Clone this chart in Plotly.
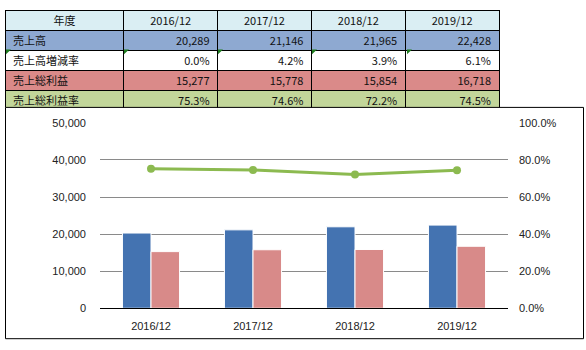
import plotly.graph_objects as go

W, H = 586, 350

years = ["2016/12", "2017/12", "2018/12", "2019/12"]
sales = [20289, 21146, 21965, 22428]
sales_growth = [0.0, 4.2, 3.9, 6.1]
gross_profit = [15277, 15778, 15854, 16718]
gross_margin = [75.3, 74.6, 72.2, 74.5]
row_labels = ["売上高", "売上高増減率", "売上総利益", "売上総利益率"]
header_label = "年度"

BLUE = "#4473B1"
PINK = "#D88A89"
GREEN = "#8CBA50"
F = "Noto Sans CJK JP"


def px(x):
    return x / W


def py(y):
    return 1 - y / H


# table
row_fills = ["#8EA9D1", "#FFFFFF", "#DA8A89", "#C2D69A"]
cols = [row_labels]
for i in range(len(years)):
    cols.append([f"{sales[i]:,}", f"{sales_growth[i]:.1f}%",
                 f"{gross_profit[i]:,}", f"{gross_margin[i]:.1f}%"])
fills = [row_fills for _ in cols]
header_vals = [header_label] + years
col_w = [119, 94, 94, 94, 94]
TRANSP = "rgba(0,0,0,0)"

fig = go.Figure()
# cell backgrounds and borders
fig.add_trace(go.Table(
    domain=dict(x=[px(5), px(499.5)], y=[py(105.5), py(4.5)]),
    columnwidth=col_w,
    header=dict(values=["" for _ in header_vals], fill_color="#DAEEF3",
                line=dict(color="black", width=1), height=20),
    cells=dict(values=[["" for _ in c] for c in cols], fill_color=fills,
               line=dict(color="black", width=1), height=20),
))
# cell texts (nudged up slightly to centre them vertically)
fig.add_trace(go.Table(
    domain=dict(x=[px(5), px(499.5)], y=[py(103.5), py(2.5)]),
    columnwidth=col_w,
    header=dict(values=header_vals, fill_color=TRANSP,
                line=dict(color=TRANSP, width=0), align="center",
                font=dict(family=F, size=11, color="#111"), height=20),
    cells=dict(values=cols, fill_color=TRANSP,
               line=dict(color=TRANSP, width=0),
               align=["left", "right", "right", "right", "right"],
               font=dict(family=F, size=11, color="#111"), height=20),
))

fig.add_trace(go.Bar(x=years, y=sales, name="売上高", marker=dict(color=BLUE, line=dict(color="white", width=1)),
                     yaxis="y", xaxis="x"))
fig.add_trace(go.Bar(x=years, y=gross_profit, name="売上総利益", marker=dict(color=PINK, line=dict(color="white", width=1)),
                     yaxis="y", xaxis="x"))
fig.add_trace(go.Scatter(x=years, y=[v / 100 for v in gross_margin], name="売上総利益率",
                         mode="lines+markers", line=dict(color=GREEN, width=3),
                         marker=dict(color=GREEN, size=8), yaxis="y2", xaxis="x"))

tickfont = dict(family="Liberation Sans", size=11, color="#222")
fig.update_layout(
    width=W, height=H, margin=dict(l=0, r=0, t=0, b=0),
    paper_bgcolor="white", plot_bgcolor="white", showlegend=False,
    barmode="group", bargap=0.44, bargroupgap=0,
    xaxis=dict(domain=[px(100), px(508)], showgrid=False, showline=True, linecolor="black",
               linewidth=1, tickfont=tickfont, ticks="", ticklabelstandoff=8, anchor="y"),
    yaxis=dict(domain=[py(313), py(121)], range=[0, 50000], dtick=10000, tickformat=",",
               showgrid=True, gridcolor="#8A8A8A", gridwidth=1, zeroline=False,
               tickfont=tickfont, ticklabelstandoff=13, showline=False),
    yaxis2=dict(overlaying="y", side="right", range=[0, 1], dtick=0.2, tickformat=".1%",
                showgrid=False, zeroline=False, tickfont=tickfont, ticklabelstandoff=10,
                anchor="x"),
    shapes=[dict(type="rect", xref="paper", yref="paper", x0=px(5.5), x1=px(583.5),
                 y0=py(344.5), y1=py(105), line=dict(color="black", width=1))],
)

# green error indicator triangles in the growth-rate row
col_edges = [5, 123, 217, 311, 406]
for cx in col_edges:
    x0, y0 = cx + 1, 45
    fig.add_shape(type="path", xref="paper", yref="paper",
                  path=f"M {px(x0)},{py(y0)} L {px(x0 + 5)},{py(y0)} L {px(x0)},{py(y0 + 5)} Z",
                  fillcolor="#1E7B1E", line=dict(width=0))

fig.write_html("out.html")
